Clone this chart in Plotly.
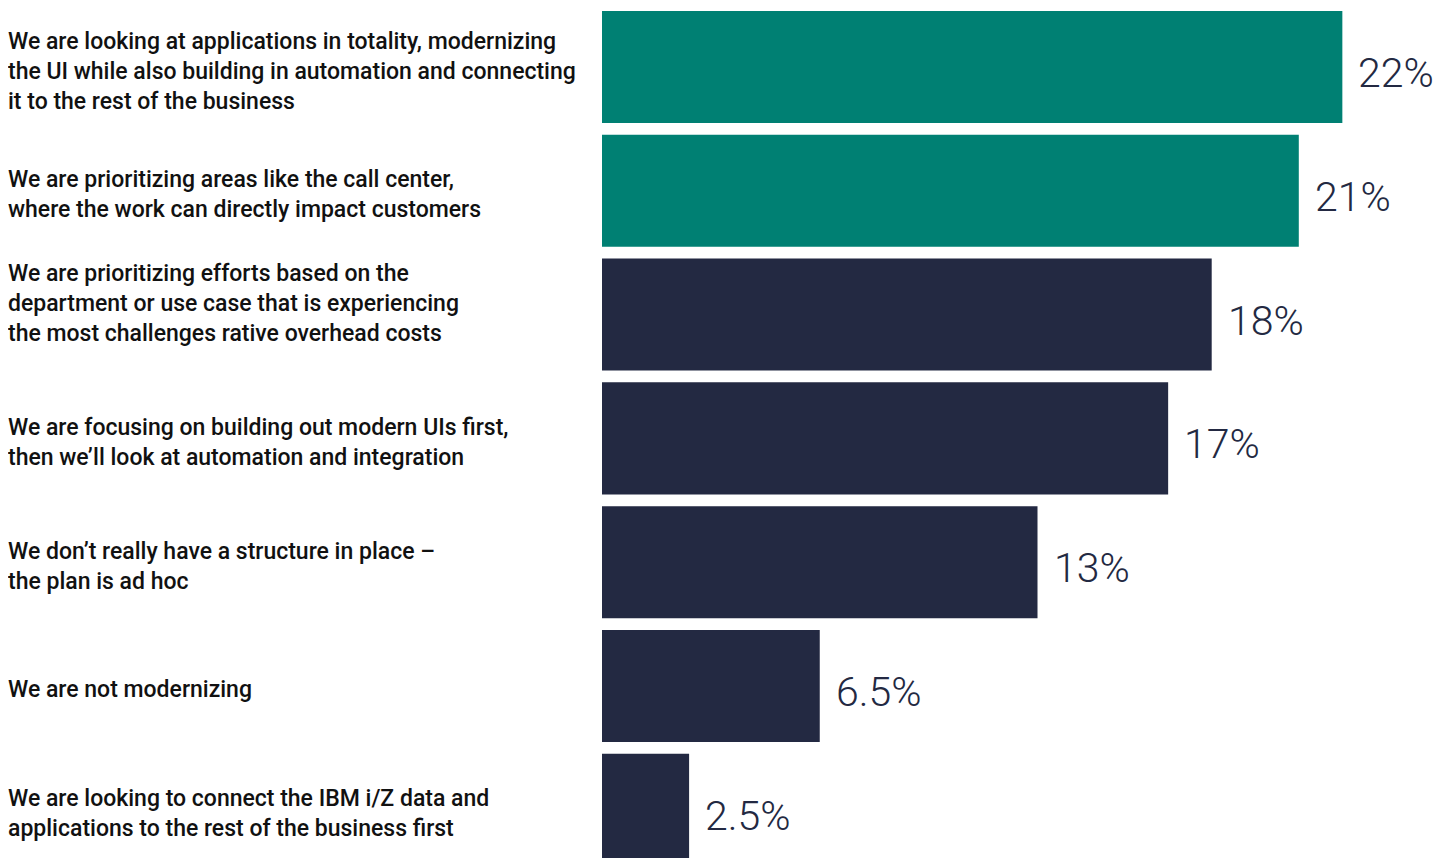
import plotly.graph_objects as go

categories = [
    "We are looking at applications in totality, modernizing<br>the UI while also building in automation and connecting<br>it to the rest of the business",
    "We are prioritizing areas like the call center,<br>where the work can directly impact customers",
    "We are prioritizing efforts based on the<br>department or use case that is experiencing<br>the most challenges rative overhead costs",
    "We are focusing on building out modern UIs first,<br>then we’ll look at automation and integration",
    "We don’t really have a structure in place –<br>the plan is ad hoc",
    "We are not modernizing",
    "We are looking to connect the IBM i/Z data and<br>applications to the rest of the business first",
]
values = [22.1, 20.8, 18.2, 16.9, 13.0, 6.5, 2.6]
value_labels = ["22%", "21%", "18%", "17%", "13%", "6.5%", "2.5%"]
bar_colors = ["#008073", "#008073", "#232942", "#232942", "#232942", "#232942", "#232942"]
label_shift = [4, 4, -11, 4, 4, 4, 4]

OFF = 8  # page body margin
W, H = 1442 - OFF, 858 - OFF
L = 602 - OFF
PX_PER_UNIT = 33.5
fig = go.Figure()
fig.add_trace(go.Bar(
    y=list(range(len(categories))),
    x=values,
    orientation="h",
    marker=dict(color=bar_colors, line=dict(width=0)),
    width=0.905,
    hoverinfo="skip",
))

for i, (v, t) in enumerate(zip(values, value_labels)):
    fig.add_annotation(
        x=v, xref="x", y=i, yref="y", text=t, showarrow=False,
        xanchor="left", yanchor="middle", xshift=14, yshift=-6,
        font=dict(family="Roboto", size=41, color="#232942", weight=300),
    )

for i, (c, s) in enumerate(zip(categories, label_shift)):
    fig.add_annotation(
        x=-L / (W - L), xref="paper", y=i, yref="y",
        text=c, showarrow=False, xanchor="left", align="left",
        yanchor="middle", yshift=-s, xshift=-2,
        font=dict(family="Roboto", size=23, color="#111111", weight=500),
    )

fig.update_layout(
    width=W, height=H,
    margin=dict(l=L, r=0, t=0, b=0),
    paper_bgcolor="white", plot_bgcolor="white",
    showlegend=False,
    xaxis=dict(range=[0, (W - L) / PX_PER_UNIT], visible=False),
    yaxis=dict(range=[6.39, -0.477], visible=False),
)
fig.write_html("out.html")
